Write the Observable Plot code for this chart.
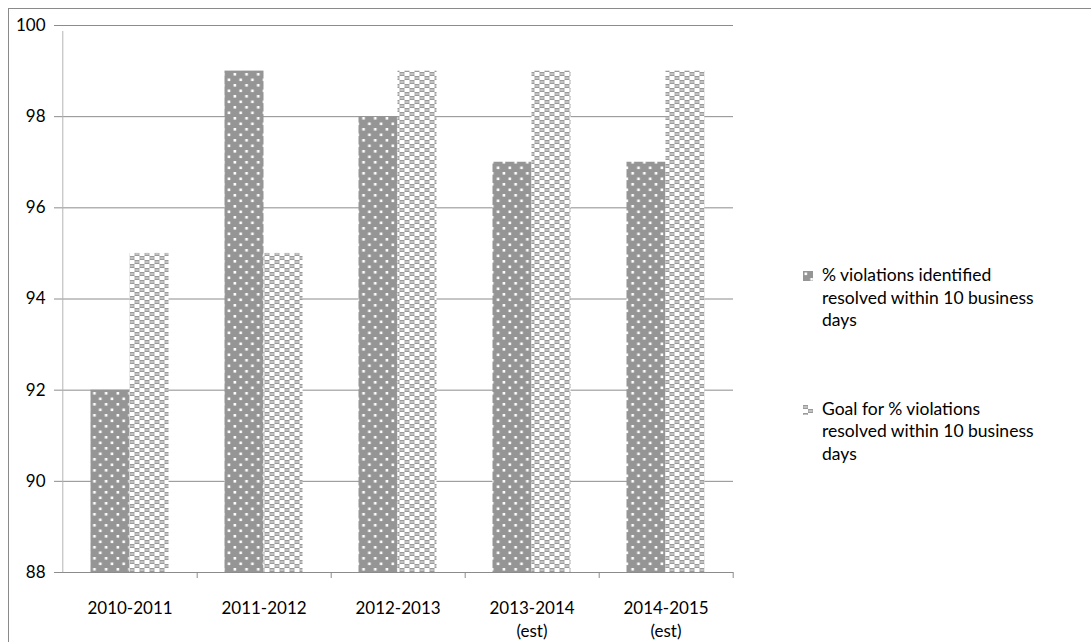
<!DOCTYPE html>
<html>
<head>
<meta charset="utf-8">
<script src="https://cdn.jsdelivr.net/npm/d3@7"></script>
<script src="https://cdn.jsdelivr.net/npm/@observablehq/plot@0.6"></script>
<style>
  html, body { margin: 0; padding: 0; background: #fff; }
  body { width: 1091px; height: 642px; position: relative; overflow: hidden; font-family: Lato, "Open Sans", sans-serif; }
  #frame { position: absolute; left: 8px; top: 8px; width: 1200px; height: 800px; border-top: 1px solid #8a8a8a; border-left: 1px solid #8a8a8a; box-sizing: border-box; }
  #chart { position: absolute; left: 0; top: 0; }
  #legend { position: absolute; left: 803px; top: 264px; font-size: 17.5px; line-height: 22.5px; color: #000; }
  .item { position: relative; padding-left: 19px; width: 222px; }
  .item svg { position: absolute; left: 0; top: 7px; }
</style>
</head>
<body>
<div id="frame"></div>
<div id="chart"></div>
<div id="legend"></div>
<script>
const categories = ["2010-2011", "2011-2012", "2012-2013", "2013-2014", "2014-2015"];
const tickLabels = ["2010-2011", "2011-2012", "2012-2013", "2013-2014\n(est)", "2014-2015\n(est)"];
const seriesNames = [
  "% violations identified resolved within 10 business days",
  "Goal for % violations resolved within 10 business days"
];
const actual = [92, 99, 98, 97, 97];
const goal = [95, 95, 99, 99, 99];
const yTicks = [88, 90, 92, 94, 96, 98, 100];

const rows = categories.flatMap((c, i) => [
  {category: c, series: 0, value: actual[i]},
  {category: c, series: 1, value: goal[i]}
]);

const W = 760, H = 642, ml = 61, mr = 27, mt = 25, mb = 70;
const step = (W - ml - mr) / categories.length;
const barW = 39;
const labelOf = new Map(categories.map((c, i) => [c, tickLabels[i]]));

const chart = Plot.plot({
  width: W, height: H,
  marginLeft: ml, marginRight: mr, marginTop: mt, marginBottom: mb,
  style: {fontFamily: "Lato, 'Open Sans', sans-serif", fontSize: "17px", color: "#000", background: "transparent"},
  x: {domain: categories, paddingInner: 1 - barW / step, paddingOuter: (1 - barW / step) / 2, axis: null},
  y: {domain: [88, 100], axis: null},
  marks: [
    Plot.gridY(yTicks, {stroke: "#8c8c8c", strokeOpacity: 1}),
    Plot.ruleY(yTicks, {y: d => d, x1: categories[0], x2: categories[0], dx: -step / 2, stroke: "#8c8c8c"}),
    Plot.barY(rows.filter(d => d.series === 0), {x: "category", y1: 88, y2: "value", dx: -barW / 2, fill: "url(#pat1)"}),
    Plot.barY(rows.filter(d => d.series === 1), {x: "category", y1: 88, y2: "value", dx: barW / 2, fill: "url(#pat2)"}),
    Plot.ruleY([88], {stroke: "#8c8c8c"}),
    Plot.ruleX([categories[0]], {y1: 88, y2: 100, dx: -step / 2, insetBottom: -6, stroke: "#b4b4b4"}),
    Plot.ruleX(categories, {y1: 88, y2: 88, dx: step / 2, insetBottom: -6, stroke: "#8c8c8c"}),
    Plot.axisY(yTicks, {tickSize: 7, tickPadding: 9, stroke: "#8c8c8c", label: null, fill: "#000", fontSize: 17}),
    Plot.axisX({tickSize: 0, tickPadding: 25, label: null, tickFormat: d => labelOf.get(d), lineHeight: 1.35, fill: "#000", fontSize: 17})
  ]
});

// Patterns
const defs = d3.select(chart).insert("defs", ":first-child");
const p1 = defs.append("pattern").attr("id", "pat1").attr("patternUnits", "userSpaceOnUse")
  .attr("width", 11.7).attr("height", 11);
p1.append("rect").attr("width", 11.7).attr("height", 11).attr("fill", "#959595");
p1.append("rect").attr("x", 1.5).attr("y", 1.5).attr("width", 2.6).attr("height", 2.6).attr("fill", "#fff");
p1.append("rect").attr("x", 7.35).attr("y", 7).attr("width", 2.6).attr("height", 2.6).attr("fill", "#fff");

const p2 = defs.append("pattern").attr("id", "pat2").attr("patternUnits", "userSpaceOnUse")
  .attr("width", 10).attr("height", 8);
p2.append("rect").attr("width", 10).attr("height", 8).attr("fill", "#fff");
p2.append("rect").attr("x", 0).attr("y", 0).attr("width", 5).attr("height", 4).attr("fill", "#9a9a9a");
p2.append("rect").attr("x", 5).attr("y", 4).attr("width", 5).attr("height", 4).attr("fill", "#9a9a9a");
p2.append("rect").attr("x", 0.5).attr("y", 1.6).attr("width", 4).attr("height", 0.8).attr("fill", "#fff");
p2.append("rect").attr("x", 5.5).attr("y", 5.6).attr("width", 4).attr("height", 0.8).attr("fill", "#fff");

document.getElementById("chart").appendChild(chart);

// Legend
const legend = d3.select("#legend");
seriesNames.forEach((name, i) => {
  const item = legend.append("div").attr("class", "item").style("margin-bottom", i === 0 ? "66px" : "0");
  item.append("svg").attr("width", 10).attr("height", 10)
    .append("rect").attr("width", 10).attr("height", 10).attr("fill", `url(#pat${i + 1})`);
  item.append("span").text(name);
});
</script>
</body>
</html>
